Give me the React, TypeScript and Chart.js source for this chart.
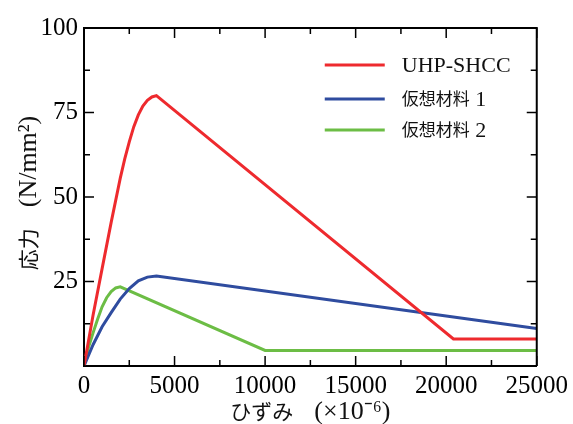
import { useEffect, useRef } from 'react';
import { Chart, registerables } from 'chart.js';

Chart.register(...registerables);

// UHP-SHCC
const uhpStrain = [0, 500, 1000, 1500, 2000, 2250, 2500, 2750, 3000, 3250, 3500, 3750, 4000, 20400, 25000];
const uhpStress = [0, 15, 28.8, 42.5, 55.5, 61.3, 66.3, 70.8, 74.3, 76.9, 78.6, 79.6, 80, 8, 8];
// 仮想材料1
const mat1Strain = [0, 500, 1000, 1500, 2000, 2500, 3000, 3500, 4000, 25000];
const mat1Stress = [0, 6.3, 11.6, 15.8, 19.8, 22.9, 25.2, 26.3, 26.6, 11.1];
// 仮想材料2
const mat2Strain = [0, 250, 500, 750, 1000, 1250, 1500, 1750, 2000, 10000, 25000];
const mat2Stress = [0, 5.5, 9.8, 13.8, 17.5, 20.2, 22, 23.1, 23.4, 4.6, 4.6];

const seriesLabels = ['UHP-SHCC', '仮想材料 1', '仮想材料 2'];
const seriesColors = ['#ee2a2e', '#2f4c9f', '#6cbd45'];

const xMin = 0, xMax = 25000, xMajor = 5000, xMinor = 2500;
const yMin = 0, yMax = 100, yMajor = 25, yMinor = 12.5;

const xTitle = 'ひずみ\u3000(×10⁻⁶)';
const yTitle = '応力\u3000(N/mm²)';

const SERIF = "'Liberation Serif', 'Times New Roman', serif";
const CJK = "'Noto Sans CJK JP', sans-serif";

const toPoints = (xs: number[], ys: number[]) => xs.map((x, i) => ({ x, y: ys[i] }));

const isCjkText = (s: string) => /[\u3000-\u9fff]/.test(s);
const splitParts = (s: string) => s.match(/[\u3000-\u9fff]+|[^\u3000-\u9fff]+/g) || [];

// draws mixed CJK / Latin text starting at (0,0) centered around origin, returns nothing
function drawMixed(ctx: any, text: string, cjkSize: number, latinSize: number, align: 'left' | 'center') {
  const parts = splitParts(text);
  const widths = parts.map((p) => {
    ctx.font = isCjkText(p) ? `${cjkSize}px ${CJK}` : `${latinSize}px ${SERIF}`;
    return ctx.measureText(p).width;
  });
  const total = widths.reduce((a, b) => a + b, 0);
  let x = align === 'center' ? -total / 2 : 0;
  ctx.textBaseline = 'middle';
  ctx.textAlign = 'left';
  parts.forEach((p, i) => {
    const cjk = isCjkText(p);
    ctx.font = cjk ? `${cjkSize}px ${CJK}` : `${latinSize}px ${SERIF}`;
    ctx.fillText(p, x, cjk ? 0 : 1);
    x += widths[i];
  });
}

const frameTicksPlugin = {
  id: 'frameTicks',
  afterDraw(chart: any) {
    const { ctx, chartArea } = chart;
    const xs = chart.scales.x;
    const ys = chart.scales.y;
    const { left, right, top, bottom } = chartArea;
    ctx.save();
    ctx.strokeStyle = '#000';
    ctx.lineWidth = 2;
    ctx.beginPath();
    ctx.moveTo(left, top);
    ctx.lineTo(right, top);
    ctx.lineTo(right, bottom);
    ctx.stroke();
    ctx.lineWidth = 1.5;
    ctx.beginPath();
    for (let v = xMin; v <= xMax + 1e-6; v += xMinor) {
      const len = Math.abs(v % xMajor) < 1e-6 ? 10 : 6;
      const px = xs.getPixelForValue(v);
      ctx.moveTo(px, bottom);
      ctx.lineTo(px, bottom - len);
      ctx.moveTo(px, top);
      ctx.lineTo(px, top + len);
    }
    for (let v = yMin; v <= yMax + 1e-6; v += yMinor) {
      const len = Math.abs(v % yMajor) < 1e-6 ? 10 : 6;
      const py = ys.getPixelForValue(v);
      ctx.moveTo(left, py);
      ctx.lineTo(left + len, py);
      ctx.moveTo(right, py);
      ctx.lineTo(right - len, py);
    }
    ctx.stroke();
    ctx.restore();

    // axis titles
    ctx.save();
    ctx.fillStyle = '#111';
    ctx.translate((left + right) / 2, 411);
    drawMixed(ctx, xTitle, 21, 26, 'center');
    ctx.restore();

    ctx.save();
    ctx.fillStyle = '#111';
    ctx.translate(28, (top + bottom) / 2 - 4);
    ctx.rotate(-Math.PI / 2);
    drawMixed(ctx, yTitle, 21, 26, 'center');
    ctx.restore();
  },
};

const legendPlugin = {
  id: 'insideLegend',
  afterDraw(chart: any) {
    const { ctx, chartArea } = chart;
    const lineX0 = chartArea.right - 212;
    const lineX1 = chartArea.right - 152;
    const textX = chartArea.right - 135;
    const rows = [chartArea.top + 37, chartArea.top + 71, chartArea.top + 102];
    chart.data.datasets.forEach((ds: any, i: number) => {
      const y = rows[i];
      ctx.save();
      ctx.strokeStyle = ds.borderColor;
      ctx.lineWidth = 3;
      ctx.beginPath();
      ctx.moveTo(lineX0, y);
      ctx.lineTo(lineX1, y);
      ctx.stroke();
      ctx.fillStyle = '#111';
      ctx.translate(textX, y);
      drawMixed(ctx, ds.label, 17, 22, 'left');
      ctx.restore();
    });
  },
};

export default function App() {
  const ref = useRef<HTMLCanvasElement | null>(null);
  useEffect(() => {
    if (!ref.current) return;
    const chart = new Chart(ref.current, {
      type: 'line',
      data: {
        datasets: [
          { label: seriesLabels[0], data: toPoints(uhpStrain, uhpStress), borderColor: seriesColors[0] },
          { label: seriesLabels[1], data: toPoints(mat1Strain, mat1Stress), borderColor: seriesColors[1] },
          { label: seriesLabels[2], data: toPoints(mat2Strain, mat2Stress), borderColor: seriesColors[2] },
        ].map((d) => ({ ...d, borderWidth: 3, pointRadius: 0, tension: 0, fill: false })),
      },
      options: {
        responsive: false,
        animation: false,
        layout: { padding: { top: 28, right: 36, left: 0, bottom: 0 } },
        plugins: { legend: { display: false }, tooltip: { enabled: false } },
        scales: {
          x: {
            type: 'linear',
            min: xMin,
            max: xMax,
            grid: { display: false, drawTicks: false },
            border: { display: true, color: '#000', width: 2 },
            ticks: {
              stepSize: xMajor,
              color: '#000',
              padding: 5,
              maxRotation: 0,
              font: { family: SERIF, size: 25 },
              callback: (v: any) => String(v),
            },
            afterFit: (s: any) => { s.height = 58; },
          },
          y: {
            type: 'linear',
            min: yMin,
            max: yMax,
            grid: { display: false, drawTicks: false },
            border: { display: true, color: '#000', width: 2 },
            ticks: {
              stepSize: yMajor,
              color: '#000',
              padding: 6,
              font: { family: SERIF, size: 25 },
              callback: (v: any) => (v === 0 ? '' : String(v)),
            },
            afterFit: (s: any) => { s.width = 84; },
          },
        },
      },
      plugins: [frameTicksPlugin, legendPlugin],
    } as any);
    return () => chart.destroy();
  }, []);
  return (
    <div style={{ position: 'absolute', left: 0, top: 0, width: 573, height: 424, background: '#fff' }}>
      <canvas ref={ref} width={573} height={424} />
    </div>
  );
}
